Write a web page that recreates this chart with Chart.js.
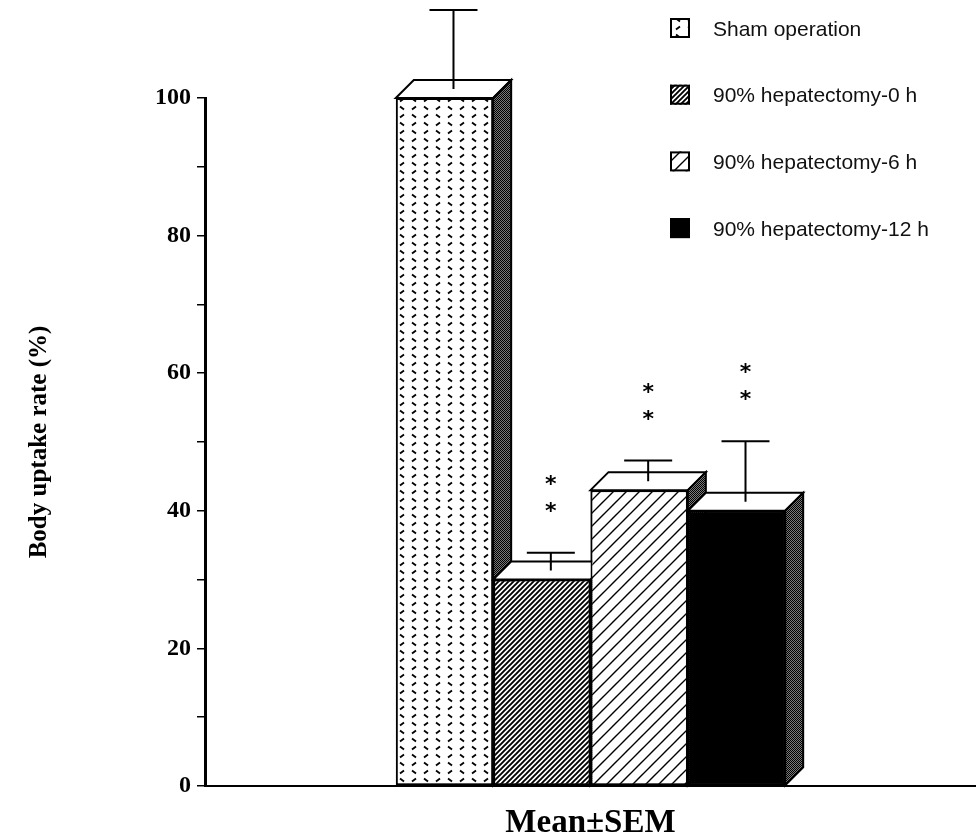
<!DOCTYPE html>
<html>
<head>
<meta charset="utf-8">
<title>Body uptake rate</title>
<script src="https://cdn.jsdelivr.net/npm/chart.js@4.4.1/dist/chart.umd.min.js"></script>
<style>
  html, body { margin: 0; padding: 0; background: #fff; }
  #wrap { width: 976px; height: 840px; }
</style>
</head>
<body>
<div id="wrap"><canvas id="chart" width="976" height="840"></canvas></div>
<script>
// data
const groups = ['Sham operation', '90% hepatectomy-0 h', '90% hepatectomy-6 h', '90% hepatectomy-12 h'];
const means = [100, 30, 43, 40];
const sems = [11.5, 2.6, 3, 8.8];
const marks = ['', '**', '**', '**'];
const category = ['Mean±SEM'];

const depth = 18;
const serif = '"Liberation Serif", "DejaVu Serif", serif';
const sans = '"Liberation Sans", Arial, sans-serif';

// small tiles for the fills
function makeTile(w, h, draw) {
    const c = document.createElement('canvas');
    c.width = w;
    c.height = h;
    const g = c.getContext('2d');
    g.fillStyle = '#fff';
    g.fillRect(0, 0, w, h);
    g.strokeStyle = '#000';
    g.fillStyle = '#000';
    draw(g, w, h);
    return c;
}

const ctx = document.getElementById('chart').getContext('2d');

const dashTile = makeTile(24, 16, g => {
    g.lineWidth = 1.8;
    g.beginPath();
    g.moveTo(4, 2.5); g.lineTo(8, 5.5);
    g.moveTo(16, 5.5); g.lineTo(20, 2.5);
    g.moveTo(4, 13.5); g.lineTo(8, 10.5);
    g.moveTo(16, 10.5); g.lineTo(20, 13.5);
    g.stroke();
});
const denseTile = makeTile(5, 5, g => {
    g.lineWidth = 1.9;
    g.beginPath();
    g.moveTo(-1, 6); g.lineTo(6, -1);
    g.moveTo(-1, 1); g.lineTo(1, -1);
    g.moveTo(4, 6); g.lineTo(6, 4);
    g.stroke();
});
const wideTile = makeTile(13, 13, g => {
    g.lineWidth = 1.4;
    g.beginPath();
    g.moveTo(-1, 14); g.lineTo(14, -1);
    g.moveTo(-1, 1); g.lineTo(1, -1);
    g.moveTo(12, 14); g.lineTo(14, 12);
    g.stroke();
});
const stippleTile = makeTile(2, 2, g => {
    g.fillStyle = '#7a7a7a';
    g.fillRect(0, 0, 2, 2);
    g.fillStyle = '#000';
    g.fillRect(0, 0, 1, 1);
    g.fillRect(1, 1, 1, 1);
});

const fills = [
    ctx.createPattern(dashTile, 'repeat'),
    ctx.createPattern(denseTile, 'repeat'),
    ctx.createPattern(wideTile, 'repeat'),
    '#000'
];
const sideFill = ctx.createPattern(stippleTile, 'repeat');

// 3D boxes, error bars and asterisks
const boxes = {
    id: 'boxes',
    afterDatasetsDraw(chart) {
        const c = chart.ctx;
        const yScale = chart.scales.y;
        const bars = chart.data.datasets.map((ds, i) => chart.getDatasetMeta(i).data[0]);

        bars.forEach(el => {
            const p = el.getProps(['x', 'y', 'base', 'width'], true);
            const l = p.x - p.width / 2;
            const r = p.x + p.width / 2;
            el.draw(c);
            c.save();
            c.lineWidth = 2;
            c.strokeStyle = '#000';
            // top
            c.beginPath();
            c.moveTo(l, p.y);
            c.lineTo(l + depth, p.y - depth);
            c.lineTo(r + depth, p.y - depth);
            c.lineTo(r, p.y);
            c.closePath();
            c.fillStyle = '#fff';
            c.fill();
            c.stroke();
            // side
            c.beginPath();
            c.moveTo(r, p.y);
            c.lineTo(r + depth, p.y - depth);
            c.lineTo(r + depth, p.base - depth);
            c.lineTo(r, p.base);
            c.closePath();
            c.fillStyle = sideFill;
            c.fill();
            c.stroke();
            c.restore();
        });

        bars.forEach((el, i) => {
            const p = el.getProps(['x', 'y'], true);
            const ex = p.x + depth / 2;
            const y0 = p.y - depth / 2;
            const y1 = yScale.getPixelForValue(means[i] + sems[i]) - depth / 2;
            c.save();
            c.strokeStyle = '#000';
            c.lineWidth = 2;
            c.beginPath();
            c.moveTo(ex, y0);
            c.lineTo(ex, y1);
            c.moveTo(ex - 24, y1);
            c.lineTo(ex + 24, y1);
            c.stroke();

            c.fillStyle = '#000';
            c.font = 'bold 22px "DejaVu Sans", sans-serif';
            c.textAlign = 'center';
            c.textBaseline = 'alphabetic';
            marks[i].split('').forEach((m, k) => {
                c.fillText(m, ex, y1 - 35 - k * 27);
            });
            c.restore();
        });
    }
};

// legend in the upper right corner
const legendBox = {
    id: 'legendBox',
    afterDraw(chart) {
        const c = chart.ctx;
        c.save();
        chart.data.datasets.forEach((ds, i) => {
            const cy = 28 + i * 66.7;
            c.fillStyle = ds.backgroundColor;
            c.fillRect(670, cy - 10, 20, 20);
            c.strokeStyle = '#000';
            c.lineWidth = 2;
            c.strokeRect(671, cy - 9, 18, 18);
            c.fillStyle = '#111';
            c.font = '21px ' + sans;
            c.textAlign = 'left';
            c.textBaseline = 'middle';
            c.fillText(ds.label, 713, cy + 2);
        });
        c.restore();
    }
};

new Chart(ctx, {
    type: 'bar',
    data: {
        labels: category,
        datasets: groups.map((g, i) => ({
            label: g,
            data: [means[i]],
            backgroundColor: fills[i],
            borderColor: '#000',
            borderWidth: 2,
            borderSkipped: false,
            categoryPercentage: 0.505,
            barPercentage: 1
        }))
    },
    options: {
        responsive: false,
        animation: false,
        layout: { padding: { top: 98, right: 0, left: 0, bottom: 0 } },
        plugins: {
            legend: { display: false },
            tooltip: { enabled: false }
        },
        scales: {
            x: {
                grid: { display: false },
                border: { display: true, color: '#000', width: 2 },
                ticks: { display: false },
                title: {
                    display: true,
                    text: 'Mean±SEM',
                    color: '#000',
                    font: { family: serif, size: 33, weight: 'bold', lineHeight: 1 },
                    padding: { top: 21, bottom: 0 }
                },
                afterFit(scale) { scale.height = 54; }
            },
            y: {
                min: 0,
                max: 100,
                ticks: {
                    stepSize: 10,
                    color: '#000',
                    padding: 6,
                    font: { family: serif, size: 24, weight: 'bold' },
                    callback: v => (v % 20 === 0 ? v : '')
                },
                grid: {
                    drawOnChartArea: false,
                    tickLength: 8,
                    color: '#000',
                    lineWidth: 1.5
                },
                border: { display: true, color: '#000', width: 3 },
                title: {
                    display: true,
                    text: 'Body uptake rate (%)',
                    color: '#000',
                    font: { family: serif, size: 25, weight: 'bold', lineHeight: 1.2 },
                    padding: { top: 25, bottom: 0 }
                },
                afterFit(scale) { scale.width = 205; }
            }
        }
    },
    plugins: [boxes, legendBox]
});
</script>
</body>
</html>
